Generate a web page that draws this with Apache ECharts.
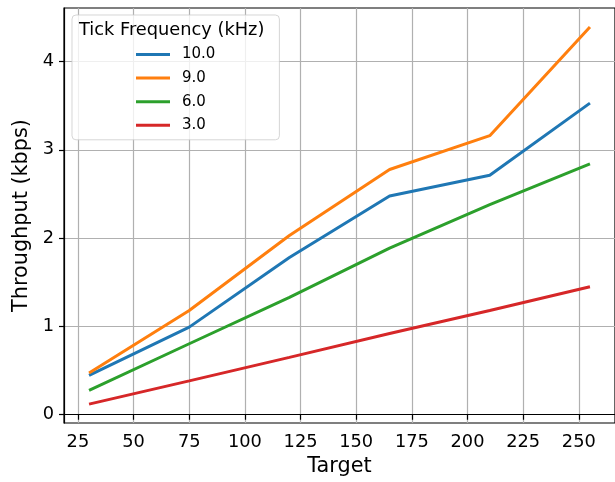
<!DOCTYPE html>
<html>
<head>
<meta charset="utf-8">
<script src="https://cdn.jsdelivr.net/npm/echarts@6/dist/echarts.min.js"></script>
<style>html,body{margin:0;padding:0;background:#fff}#c{width:615px;height:482px}</style>
</head>
<body>
<div id="c"></div>
<script>
const targets = [30, 75, 120, 165, 210, 255];
const seriesNames = ['10.0', '9.0', '6.0', '3.0'];
const tput10 = [0.446, 0.992, 1.78, 2.476, 2.713, 3.529];
const tput9 = [0.473, 1.18, 2.03, 2.777, 3.16, 4.392];
const tput6 = [0.277, 0.804, 1.33, 1.886, 2.38, 2.841];
const tput3 = [0.12, 0.383, 0.65, 0.92, 1.18, 1.45];
const xTicks = [25, 50, 75, 100, 125, 150, 175, 200, 225, 250];
const yTicks = [0, 1, 2, 3, 4];
const colors = ['#1f77b4', '#ff7f0e', '#2ca02c', '#d62728'];
const allY = [tput10, tput9, tput6, tput3];

const font = 'DejaVu Sans';
const chart = echarts.init(document.getElementById('c'), null, {renderer: 'canvas'});
const series = seriesNames.map((n, i) => ({
  name: n,
  type: 'line',
  data: targets.map((t, j) => [t, allY[i][j]]),
  showSymbol: false,
  symbol: 'none',
  lineStyle: {color: colors[i], width: 3},
  itemStyle: {color: colors[i]},
  z: 2 + i
}));

chart.setOption({
  animation: false,
  backgroundColor: '#fff',
  grid: {left: 64, top: 8, width: 559.5, height: 416.7, show: true, borderColor: '#000', borderWidth: 1.2, containLabel: false},
  xAxis: {
    type: 'value', min: 18.75, max: 266.25,
    name: 'Target', nameLocation: 'middle', nameGap: 33,
    nameTextStyle: {fontFamily: font, fontSize: 20.8, color: '#000'},
    axisLine: {show: true, lineStyle: {color: '#000', width: 1.2}},
    axisTick: {show: true, customValues: xTicks, length: 5, lineStyle: {color: '#000', width: 1.2}},
    axisLabel: {customValues: xTicks, margin: 10, fontFamily: font, fontSize: 17.8, color: '#000'},
    splitLine: {show: true, lineStyle: {color: '#b0b0b0', width: 1.2}}
  },
  yAxis: {
    type: 'value', min: -0.0936, max: 4.606,
    name: 'Throughput (kbps)', nameLocation: 'middle', nameGap: 28.5,
    nameTextStyle: {fontFamily: font, fontSize: 20.8, color: '#000'},
    axisLine: {show: true, lineStyle: {color: '#000', width: 1.2}},
    axisTick: {show: true, customValues: yTicks, length: 5, lineStyle: {color: '#000', width: 1.2}},
    axisLabel: {customValues: yTicks, margin: 10, fontFamily: font, fontSize: 17.8, color: '#000'},
    splitLine: {show: true, lineStyle: {color: '#b0b0b0', width: 1.2}}
  },
  legend: {
    orient: 'vertical',
    left: 72, top: 15,
    padding: [32, 64, 7, 64],
    backgroundColor: 'rgba(255,255,255,0.8)',
    borderColor: 'rgba(204,204,204,0.8)', borderWidth: 1, borderRadius: 4,
    itemWidth: 34, itemHeight: 14, itemGap: 8.6,
    icon: 'path://M0,6 L34,6 L34,9 L0,9 Z',
    textStyle: {fontFamily: font, fontSize: 15, lineHeight: 14, color: '#000', padding: [0, 0, 0, 7]},
    data: seriesNames
  },
  graphic: [{
    type: 'text', left: 79, top: 21, z: 100,
    style: {text: 'Tick Frequency (kHz)', fontFamily: font, fontSize: 17.8, fill: '#000'}
  }],
  series: series
});
</script>
</body>
</html>
